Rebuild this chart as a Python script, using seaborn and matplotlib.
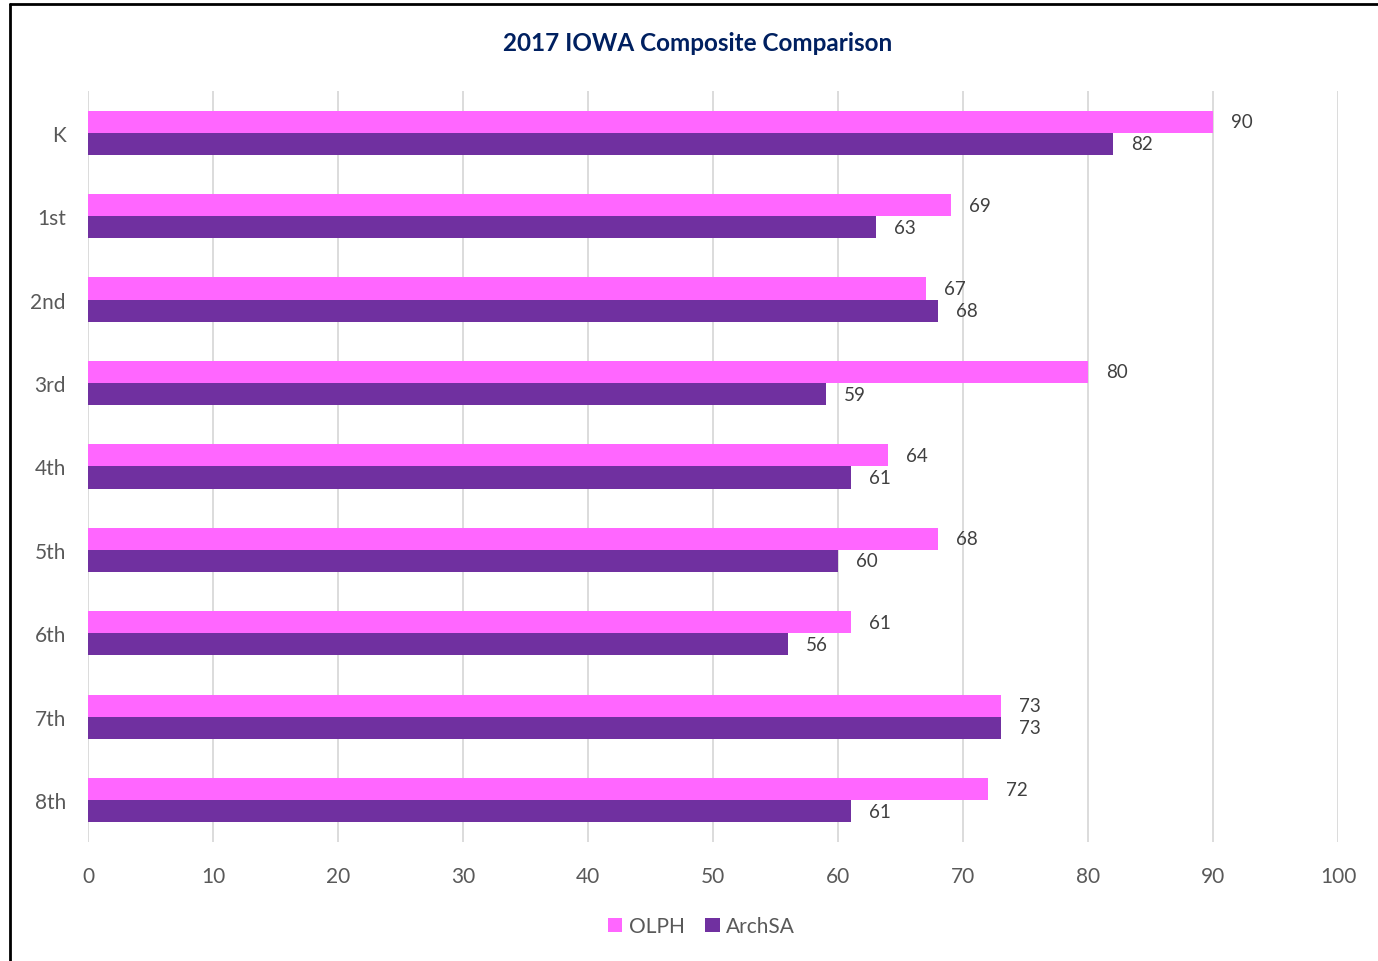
import matplotlib
matplotlib.use("Agg")
import matplotlib.pyplot as plt
import seaborn as sns
import pandas as pd
from matplotlib.patches import Patch
from matplotlib.lines import Line2D

grades = ["K", "1st", "2nd", "3rd", "4th", "5th", "6th", "7th", "8th"]
olph = [90, 69, 67, 80, 64, 68, 61, 73, 72]
archsa = [82, 63, 68, 59, 61, 60, 56, 73, 61]
series = ["OLPH", "ArchSA"]
colors = ["#FF66FF", "#7030A0"]
xticks = [0, 10, 20, 30, 40, 50, 60, 70, 80, 90, 100]

df = pd.DataFrame({
    "grade": grades * 2,
    "score": olph + archsa,
    "school": [series[0]] * len(grades) + [series[1]] * len(grades),
})

sns.set_theme(style="white")
plt.rcParams['font.family'] = ['Lato', 'DejaVu Sans']

fig = plt.figure(figsize=(13.78, 9.62), dpi=100)
ax = fig.add_axes([0.0639, 0.1237, 0.9071, 0.7807])

sns.barplot(data=df, y="grade", x="score", hue="school", order=grades,
            hue_order=series, palette=colors, width=0.53, gap=0,
            orient="h", ax=ax, legend=False, saturation=1, linewidth=0,
            errorbar=None)

for cont in ax.containers:
    ax.bar_label(cont, labels=[f"{int(v)}" for v in cont.datavalues],
                 padding=13, fontsize=13.5, color="#404040")

ax.set_xlim(0, 100)
ax.set_ylim(len(grades) - 0.5, -0.5)
ax.set_xticks(xticks)
ax.set_xticklabels([str(t) for t in xticks])
ax.grid(axis="x", color="#D9D9D9", linewidth=1.3)
ax.set_axisbelow(True)
for s in ax.spines.values():
    s.set_visible(False)
ax.tick_params(axis="both", length=0, labelsize=15, colors="#595959")
ax.tick_params(axis="x", pad=17)
ax.tick_params(axis="y", pad=16)
ax.set_xlabel("")
ax.set_ylabel("")

fig.text(0.506, 0.955, "2017 IOWA Composite Comparison", ha="center",
         va="center", fontsize=17.5, fontweight="bold", color="#002060")

handles = [Patch(facecolor=c, edgecolor="none") for c in colors]
fig.legend(handles, series, loc="center", bbox_to_anchor=(0.509, 0.036),
           ncol=2, frameon=False, fontsize=15, handlelength=0.7,
           handleheight=0.7, handletextpad=0.3, columnspacing=1.0,
           labelcolor="#595959")

# partial border (left and top edges visible)
fig.add_artist(Line2D([0.0075, 0.0075], [0, 0.9945], transform=fig.transFigure,
                      color="black", linewidth=2))
fig.add_artist(Line2D([0.0075, 1.0], [0.9945, 0.9945], transform=fig.transFigure,
                      color="black", linewidth=2))

fig.savefig("out.png", dpi=100, facecolor="white")
